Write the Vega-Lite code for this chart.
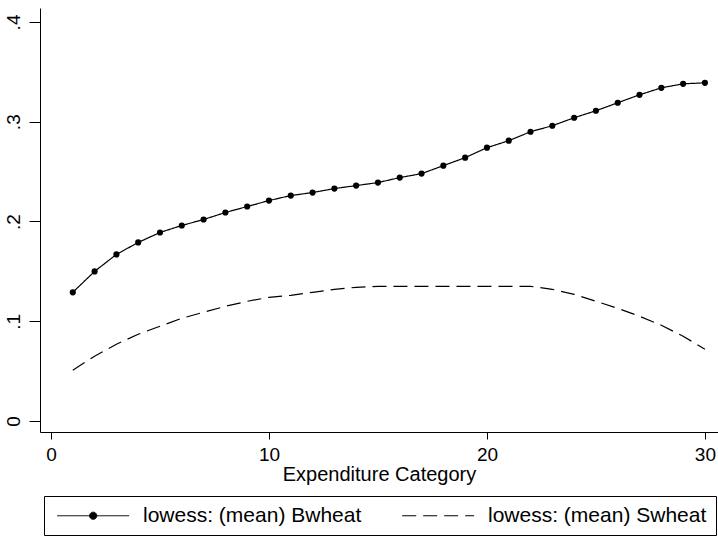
{
  "$schema": "https://vega.github.io/schema/vega-lite/v6.json",
  "autosize": "none",
  "width": 678,
  "height": 424,
  "padding": {"left": 40, "top": 8, "right": 0, "bottom": 104},
  "background": "white",
  "config": {
    "view": {"stroke": null},
    "font": "Liberation Sans",
    "axis": {"grid": false, "domainColor": "black", "tickColor": "black", "labelColor": "black", "titleColor": "black", "labelFont": "Liberation Sans", "titleFont": "Liberation Sans", "titleFontWeight": "normal"}
  },
  "data": {
    "values": [
      {"x": 1, "series": "lowess: (mean) Bwheat", "v": 0.129},
      {"x": 2, "series": "lowess: (mean) Bwheat", "v": 0.150},
      {"x": 3, "series": "lowess: (mean) Bwheat", "v": 0.167},
      {"x": 4, "series": "lowess: (mean) Bwheat", "v": 0.179},
      {"x": 5, "series": "lowess: (mean) Bwheat", "v": 0.189},
      {"x": 6, "series": "lowess: (mean) Bwheat", "v": 0.196},
      {"x": 7, "series": "lowess: (mean) Bwheat", "v": 0.202},
      {"x": 8, "series": "lowess: (mean) Bwheat", "v": 0.209},
      {"x": 9, "series": "lowess: (mean) Bwheat", "v": 0.215},
      {"x": 10, "series": "lowess: (mean) Bwheat", "v": 0.221},
      {"x": 11, "series": "lowess: (mean) Bwheat", "v": 0.226},
      {"x": 12, "series": "lowess: (mean) Bwheat", "v": 0.229},
      {"x": 13, "series": "lowess: (mean) Bwheat", "v": 0.233},
      {"x": 14, "series": "lowess: (mean) Bwheat", "v": 0.236},
      {"x": 15, "series": "lowess: (mean) Bwheat", "v": 0.239},
      {"x": 16, "series": "lowess: (mean) Bwheat", "v": 0.244},
      {"x": 17, "series": "lowess: (mean) Bwheat", "v": 0.248},
      {"x": 18, "series": "lowess: (mean) Bwheat", "v": 0.256},
      {"x": 19, "series": "lowess: (mean) Bwheat", "v": 0.264},
      {"x": 20, "series": "lowess: (mean) Bwheat", "v": 0.274},
      {"x": 21, "series": "lowess: (mean) Bwheat", "v": 0.281},
      {"x": 22, "series": "lowess: (mean) Bwheat", "v": 0.290},
      {"x": 23, "series": "lowess: (mean) Bwheat", "v": 0.296},
      {"x": 24, "series": "lowess: (mean) Bwheat", "v": 0.304},
      {"x": 25, "series": "lowess: (mean) Bwheat", "v": 0.311},
      {"x": 26, "series": "lowess: (mean) Bwheat", "v": 0.319},
      {"x": 27, "series": "lowess: (mean) Bwheat", "v": 0.327},
      {"x": 28, "series": "lowess: (mean) Bwheat", "v": 0.334},
      {"x": 29, "series": "lowess: (mean) Bwheat", "v": 0.338},
      {"x": 30, "series": "lowess: (mean) Bwheat", "v": 0.339},
      {"x": 1, "series": "lowess: (mean) Swheat", "v": 0.051},
      {"x": 2, "series": "lowess: (mean) Swheat", "v": 0.065},
      {"x": 3, "series": "lowess: (mean) Swheat", "v": 0.077},
      {"x": 4, "series": "lowess: (mean) Swheat", "v": 0.087},
      {"x": 5, "series": "lowess: (mean) Swheat", "v": 0.095},
      {"x": 6, "series": "lowess: (mean) Swheat", "v": 0.103},
      {"x": 7, "series": "lowess: (mean) Swheat", "v": 0.109},
      {"x": 8, "series": "lowess: (mean) Swheat", "v": 0.115},
      {"x": 9, "series": "lowess: (mean) Swheat", "v": 0.120},
      {"x": 10, "series": "lowess: (mean) Swheat", "v": 0.124},
      {"x": 11, "series": "lowess: (mean) Swheat", "v": 0.126},
      {"x": 12, "series": "lowess: (mean) Swheat", "v": 0.129},
      {"x": 13, "series": "lowess: (mean) Swheat", "v": 0.132},
      {"x": 14, "series": "lowess: (mean) Swheat", "v": 0.134},
      {"x": 15, "series": "lowess: (mean) Swheat", "v": 0.135},
      {"x": 16, "series": "lowess: (mean) Swheat", "v": 0.135},
      {"x": 17, "series": "lowess: (mean) Swheat", "v": 0.135},
      {"x": 18, "series": "lowess: (mean) Swheat", "v": 0.135},
      {"x": 19, "series": "lowess: (mean) Swheat", "v": 0.135},
      {"x": 20, "series": "lowess: (mean) Swheat", "v": 0.135},
      {"x": 21, "series": "lowess: (mean) Swheat", "v": 0.135},
      {"x": 22, "series": "lowess: (mean) Swheat", "v": 0.135},
      {"x": 23, "series": "lowess: (mean) Swheat", "v": 0.132},
      {"x": 24, "series": "lowess: (mean) Swheat", "v": 0.127},
      {"x": 25, "series": "lowess: (mean) Swheat", "v": 0.120},
      {"x": 26, "series": "lowess: (mean) Swheat", "v": 0.113},
      {"x": 27, "series": "lowess: (mean) Swheat", "v": 0.105},
      {"x": 28, "series": "lowess: (mean) Swheat", "v": 0.096},
      {"x": 29, "series": "lowess: (mean) Swheat", "v": 0.085},
      {"x": 30, "series": "lowess: (mean) Swheat", "v": 0.072}
    ]
  },
  "encoding": {
    "x": {
      "field": "x", "type": "quantitative",
      "scale": {"domain": [-0.505, 30.6], "nice": false, "zero": false},
      "axis": {"values": [0, 10, 20, 30], "title": "Expenditure Category", "titleFontSize": 20, "titlePadding": 0, "labelFontSize": 19, "tickSize": 7, "labelPadding": 6, "labelFlush": false}
    },
    "y": {
      "field": "v", "type": "quantitative",
      "scale": {"domain": [-0.011, 0.414], "nice": false, "zero": false},
      "axis": {"values": [0, 0.1, 0.2, 0.3, 0.4], "title": null, "labelFontSize": 19, "tickSize": 11, "labelPadding": 6, "labelAngle": -90, "labelAlign": "center", "labelBaseline": "bottom", "labelExpr": "datum.value == 0 ? '0' : replace(format(datum.value, '.1f'), '0.', '.')"}
    }
  },
  "layer": [
    {
      "mark": {"type": "line", "color": "black", "strokeWidth": 1.2},
      "encoding": {
        "strokeDash": {
          "field": "series", "type": "nominal",
          "scale": {"domain": ["lowess: (mean) Bwheat", "lowess: (mean) Swheat"], "range": [[1, 0], [14, 7]]},
          "legend": {
            "orient": "none", "legendX": 4, "legendY": 488, "direction": "horizontal", "title": null,
            "strokeColor": "black", "padding": 9, "symbolSize": 324, "symbolStrokeWidth": 1, "symbolStrokeColor": "black",
            "labelFontSize": 21, "labelOffset": 69, "columnPadding": 36, "labelFont": "Liberation Sans", "labelColor": "black", "labelLimit": 400,
            "encode": {"symbols": {"update": {
              "shape": {"signal": "datum.value == 'lowess: (mean) Bwheat' ? 'M-0.7,0H7.3M2.9,0a0.4,0.4 0 1,0 0.8,0a0.4,0.4 0 1,0 -0.8,0' : 'M-0.7,0H7.3'"},
              "fill": {"value": "black"}, "stroke": {"value": "black"}
            }}}
          }
        }
      }
    },
    {
      "transform": [{"filter": "datum.series == 'lowess: (mean) Bwheat'"}],
      "mark": {"type": "point", "filled": true, "color": "black", "opacity": 1, "size": 38, "shape": "circle"}
    }
  ]
}
